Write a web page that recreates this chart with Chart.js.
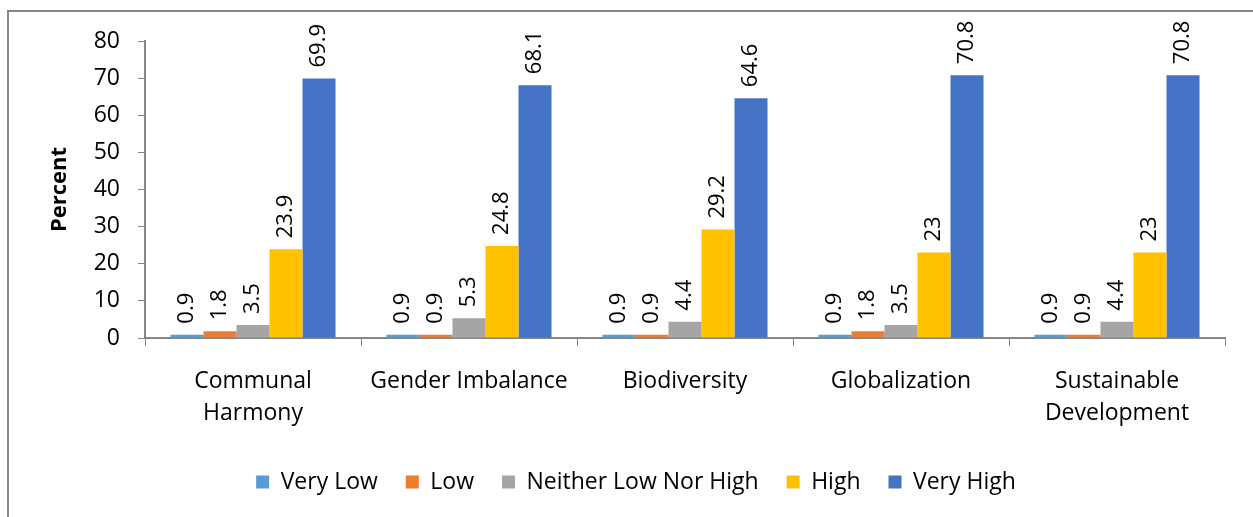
<!DOCTYPE html>
<html>
<head>
<meta charset="utf-8">
<script src="https://cdn.jsdelivr.net/npm/chart.js@4.4.0/dist/chart.umd.min.js"></script>
<style>
  html, body { margin: 0; padding: 0; background: #fff; }
  #wrap { position: relative; width: 1253px; height: 517px; }
</style>
</head>
<body>
<div id="wrap"><canvas id="chart"></canvas></div>
<script>
// --- data ---
const categories = [['Communal', 'Harmony'], 'Gender Imbalance', 'Biodiversity', 'Globalization', ['Sustainable', 'Development']];
const veryLow = [0.9, 0.9, 0.9, 0.9, 0.9];
const low = [1.8, 0.9, 0.9, 1.8, 0.9];
const neither = [3.5, 5.3, 4.4, 3.5, 4.4];
const high = [23.9, 24.8, 29.2, 23, 23];
const veryHigh = [69.9, 68.1, 64.6, 70.8, 70.8];
const yTicks = [0, 10, 20, 30, 40, 50, 60, 70, 80];

const FONT = '"Open Sans", Lato, sans-serif';
const SIZE = 23;
const AXIS = '#868686';

// outer frame of the chart object
const framePlugin = {
  id: 'frame',
  beforeDraw(chart) {
    const ctx = chart.ctx;
    ctx.save();
    ctx.strokeStyle = AXIS;
    ctx.lineWidth = 2;
    ctx.strokeRect(8, 11, 1270, 530);
    ctx.restore();
  }
};

// rotated value labels above each bar
const valueLabels = {
  id: 'valueLabels',
  afterDatasetsDraw(chart) {
    const ctx = chart.ctx;
    ctx.save();
    ctx.fillStyle = '#000';
    ctx.font = '22px ' + FONT;
    ctx.textAlign = 'left';
    ctx.textBaseline = 'middle';
    chart.data.datasets.forEach((ds, i) => {
      chart.getDatasetMeta(i).data.forEach((bar, j) => {
        ctx.save();
        ctx.translate(bar.x, bar.y - 11);
        ctx.rotate(-Math.PI / 2);
        ctx.fillText(String(ds.data[j]), 0, 0);
        ctx.restore();
      });
    });
    ctx.restore();
  }
};

new Chart(document.getElementById('chart'), {
  type: 'bar',
  data: {
    labels: categories,
    datasets: [
      { label: 'Very Low', data: veryLow, backgroundColor: '#5B9BD5' },
      { label: 'Low', data: low, backgroundColor: '#ED7D31' },
      { label: 'Neither Low Nor High', data: neither, backgroundColor: '#A5A5A5' },
      { label: 'High', data: high, backgroundColor: '#FFC000' },
      { label: 'Very High', data: veryHigh, backgroundColor: '#4472C4' }
    ]
  },
  options: {
    responsive: true,
    maintainAspectRatio: false,
    animation: false,
    layout: { padding: { left: 47, top: 41, right: 28, bottom: 13.5 } },
    datasets: { bar: { barPercentage: 1, categoryPercentage: 0.764 } },
    plugins: {
      legend: {
        position: 'bottom',
        labels: { color: '#000', font: { family: FONT, size: SIZE }, boxWidth: 13, boxHeight: 13, padding: 28 }
      },
      tooltip: { enabled: false }
    },
    scales: {
      x: {
        grid: { display: true, drawOnChartArea: false, offset: true, color: AXIS, tickLength: 8 },
        border: { color: AXIS, width: 2 },
        ticks: { color: '#000', font: { family: FONT, size: SIZE, lineHeight: 1.4 }, padding: 19, maxRotation: 0 },
        afterFit(scale) { scale.height = 104.5; }
      },
      y: {
        min: 0, max: 80,
        afterBuildTicks(scale) { scale.ticks = yTicks.map(v => ({ value: v })); },
        grid: { display: true, drawOnChartArea: false, color: AXIS, tickLength: 7 },
        border: { color: AXIS, width: 2 },
        ticks: { color: '#000', font: { family: FONT, size: SIZE }, padding: 18 },
        title: { display: true, text: 'Percent', color: '#000', font: { family: FONT, size: 22, weight: 'bold' }, padding: { top: 0, bottom: 0 } },
        afterFit(scale) { scale.width = 98; }
      }
    }
  },
  plugins: [framePlugin, valueLabels]
});
</script>
</body>
</html>
